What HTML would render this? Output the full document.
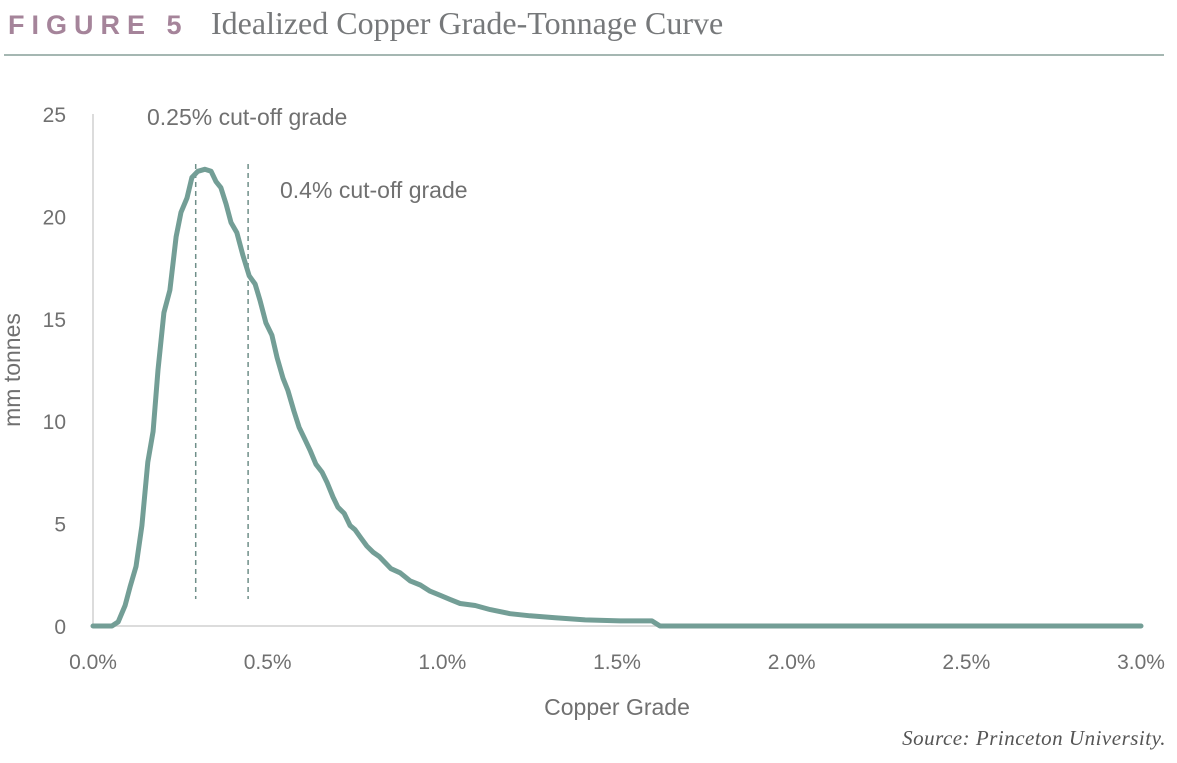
<!DOCTYPE html>
<html><head><meta charset="utf-8"><style>
body{margin:0;background:#fff;width:1177px;height:763px;overflow:hidden;}
svg{display:block}
</style></head><body>
<svg width="1177" height="763" xmlns="http://www.w3.org/2000/svg">
<g>
<text x="8" y="34" font-family="Liberation Sans, sans-serif" font-weight="bold" font-size="27" letter-spacing="7" fill="#a5849a">FIGURE 5</text>
<text x="211" y="34" font-family="Liberation Serif, serif" font-size="32" fill="#76787a">Idealized Copper Grade-Tonnage Curve</text>
<rect x="4" y="54" width="1160" height="2" fill="#a5b7b2"/>
</g>
<g id="chart"></g>
<text x="20" y="370" transform="rotate(-90 20 370)" text-anchor="middle" font-family="Liberation Sans, sans-serif" font-size="23" fill="#707070">mm tonnes</text>
<text x="617" y="715" text-anchor="middle" font-family="Liberation Sans, sans-serif" font-size="23" fill="#707070">Copper Grade</text>
<text x="1166" y="745" text-anchor="end" font-family="Liberation Serif, serif" font-style="italic" font-size="21" letter-spacing="0.5" fill="#555">Source: Princeton University.</text>
</svg>
<script>
const grades=[0,0.054,0.072,0.092,0.106,0.123,0.140,0.157,0.172,0.186,0.203,0.220,0.238,0.252,0.269,0.283,0.300,0.320,0.338,0.352,0.366,0.381,0.395,0.412,0.429,0.447,0.464,0.478,0.495,0.512,0.527,0.544,0.558,0.575,0.590,0.607,0.621,0.638,0.656,0.670,0.687,0.701,0.719,0.736,0.750,0.767,0.784,0.802,0.819,0.836,0.853,0.879,0.908,0.937,0.965,0.994,1.022,1.051,1.094,1.137,1.194,1.251,1.323,1.409,1.509,1.600,1.623,3.0];
const tonnes=[0,0,0.2,1.0,1.9,2.9,4.9,8.0,9.5,12.5,15.3,16.4,19.0,20.2,20.9,21.9,22.2,22.3,22.2,21.7,21.4,20.6,19.7,19.2,18.1,17.1,16.7,15.9,14.8,14.2,13.1,12.1,11.5,10.5,9.7,9.1,8.6,7.9,7.5,7.0,6.3,5.8,5.5,4.9,4.7,4.3,3.9,3.6,3.4,3.1,2.8,2.6,2.2,2.0,1.7,1.5,1.3,1.1,1.0,0.8,0.6,0.5,0.4,0.3,0.25,0.25,0,0];
const yTicks=[0,5,10,15,20,25];
const xTicks=[0,0.5,1.0,1.5,2.0,2.5,3.0];
const xTickLabels=["0.0%","0.5%","1.0%","1.5%","2.0%","2.5%","3.0%"];
const cutoffGrades=[0.294,0.444];
const cutoffLabels=["0.25% cut-off grade","0.4% cut-off grade"];

const X0=93,X1=1141,Y0=626,Y1=114;
const xs=g=>X0+(g/3)*(X1-X0);
const ys=v=>Y0-(v/25)*(Y0-Y1);
const NS="http://www.w3.org/2000/svg";
const root=document.getElementById('chart');
function mk(tag,attrs,text){const e=document.createElementNS(NS,tag);for(const k in attrs)e.setAttribute(k,attrs[k]);if(text!==undefined)e.textContent=text;root.appendChild(e);return e;}
const font="Liberation Sans, sans-serif";

let e=mk('line',{x1:X0,y1:Y1,x2:X0,y2:Y0,stroke:'#d0d0d0','stroke-width':1.5});


e=mk('line',{x1:X0,y1:Y0,x2:X1,y2:Y0,stroke:'#d0d0d0','stroke-width':1.5});



yTicks.forEach(v=>{
 const t=mk('text',{x:66,y:ys(v)+8,'text-anchor':'end','font-family':font,'font-size':21,fill:'#707070'},String(v));
 
 
});
xTicks.forEach((g,i)=>{
 const t=mk('text',{x:xs(g),y:669,'text-anchor':'middle','font-family':font,'font-size':21,fill:'#707070'},xTickLabels[i]);
 
 
});

cutoffGrades.forEach((g,i)=>{
 const l=mk('line',{x1:xs(g),y1:164,x2:xs(g),y2:599,stroke:'#6f8f89','stroke-width':1.5,'stroke-dasharray':'5,4'});
 
 
});
e=mk('text',{x:147,y:125,'font-family':font,'font-size':23,fill:'#707070'},cutoffLabels[0]);


e=mk('text',{x:280,y:198,'font-family':font,'font-size':23,fill:'#707070'},cutoffLabels[1]);



const d=grades.map((g,i)=>(i?'L':'M')+xs(g).toFixed(1)+' '+ys(tonnes[i]).toFixed(1)).join(' ');
const p=mk('path',{d:d,fill:'none',stroke:'#739e96','stroke-width':5,'stroke-linejoin':'round','stroke-linecap':'round'});


</script>
</body></html>
